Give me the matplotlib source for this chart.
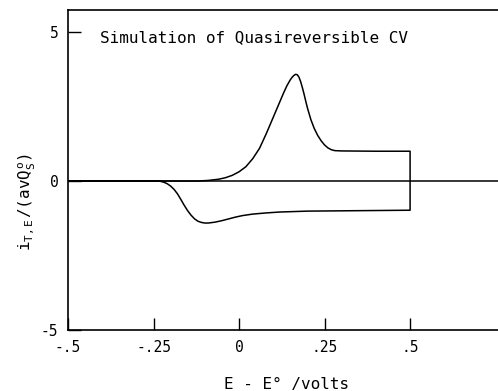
import matplotlib
matplotlib.use("Agg")
import matplotlib.pyplot as plt

# Forward scan (E - E0 in volts, normalized current)
fwd_E = [-0.5, -0.12, -0.09, -0.06, -0.04, -0.02, 0.0, 0.02, 0.04, 0.06, 0.08, 0.10,
         0.12, 0.13, 0.14, 0.15, 0.155, 0.16, 0.165, 0.17, 0.175, 0.18, 0.185, 0.19,
         0.195, 0.20, 0.21, 0.22, 0.23, 0.24, 0.25, 0.26, 0.27, 0.28, 0.30, 0.40, 0.5]
fwd_i = [0.0, 0.0, 0.02, 0.06, 0.11, 0.19, 0.31, 0.48, 0.75, 1.10, 1.60, 2.14,
         2.68, 2.95, 3.20, 3.40, 3.48, 3.54, 3.58, 3.57, 3.49, 3.34, 3.14, 2.92,
         2.68, 2.45, 2.06, 1.76, 1.53, 1.35, 1.21, 1.11, 1.05, 1.02, 1.01, 1.0, 1.0]
# Reverse scan
rev_E = [0.5, 0.4, 0.3, 0.2, 0.12, 0.08, 0.04, 0.01, -0.01, -0.03, -0.05, -0.07,
         -0.09, -0.10, -0.11, -0.12, -0.13, -0.14, -0.15, -0.16, -0.17, -0.18,
         -0.19, -0.20, -0.21, -0.22, -0.23, -0.24, -0.5]
rev_i = [-0.98, -0.99, -1.0, -1.01, -1.04, -1.07, -1.11, -1.16, -1.21, -1.27, -1.33, -1.38,
         -1.41, -1.41, -1.39, -1.35, -1.27, -1.15, -1.0, -0.82, -0.62, -0.43,
         -0.28, -0.17, -0.09, -0.04, -0.01, 0.0, 0.0]

xticks = [-0.5, -0.25, 0, 0.25, 0.5]
xticklabels = ["-.5", "-.25", "0", ".25", ".5"]
yticks = [-5, 0, 5]
yticklabels = ["-5", "0", "5"]

plt.rcParams['font.family'] = ['DejaVu Sans Mono', 'DejaVu Sans']
plt.rcParams['mathtext.fontset'] = 'custom'
plt.rcParams['mathtext.rm'] = 'DejaVu Sans Mono'
plt.rcParams['mathtext.it'] = 'DejaVu Sans Mono'

fig = plt.figure(figsize=(4.98, 3.91), dpi=100)
ax = fig.add_axes([68/498, 1-330/391, 1-68/498, (330-10)/391])

ax.plot(fwd_E + rev_E, fwd_i + rev_i, color='black', lw=1.1, solid_joinstyle='round')
ax.axhline(0, color='black', lw=1.1)

ax.set_xlim(-0.5, 0.757)
ax.set_ylim(-5, 5.74)
ax.spines['right'].set_visible(False)
for s in ['left', 'bottom', 'top']:
    ax.spines[s].set_linewidth(1.2)

ax.set_xticks(xticks)
ax.set_xticklabels(xticklabels)
ax.set_yticks(yticks)
ax.set_yticklabels(yticklabels)
ax.tick_params(direction='in', length=9, width=1.0, labelsize=10.5, pad=7)

ax.text(100/498, 1-38/391, "Simulation of Quasireversible CV", transform=fig.transFigure,
        ha='left', va='center', fontsize=11.5)
fig.text(287/498, 1-384/391, "E - E° /volts", ha='center', va='center', fontsize=11.5)
fig.text(27/498, 1-202/391, r"$i_{T,E}\,/(avQ^{o}_{S})$", rotation=90,
         ha='center', va='center', fontsize=11.5)

fig.savefig("out.png", dpi=100)
